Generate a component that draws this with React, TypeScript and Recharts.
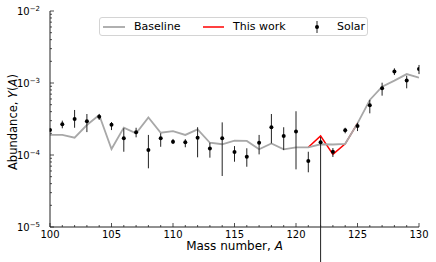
import * as React from 'react';
import {
    ComposedChart,
    ErrorBar,
    Legend,
    Line,
    ReferenceLine,
    Scatter,
    XAxis,
    YAxis,
} from 'recharts';

const FONT = '"DejaVu Sans", sans-serif';
const AXIS = '#222';
const GRAY = '#a8a8a8';
const RED = '#ff0000';

// mass numbers and the baseline abundances
const massNumbers = [
    100, 101, 102, 103, 104, 105, 106, 107, 108, 109, 110,
    111, 112, 113, 114, 115, 116, 117, 118, 119, 120,
    121, 122, 123, 124, 125, 126, 127, 128, 129, 130,
];
const baseline = [
    1.9e-4, 1.9e-4, 1.74e-4, 2.61e-4, 3.59e-4, 1.21e-4, 2.4e-4, 2.0e-4, 3.33e-4, 2.04e-4, 2.14e-4,
    1.9e-4, 2.27e-4, 1.48e-4, 1.41e-4, 1.58e-4, 1.57e-4, 1.2e-4, 1.45e-4, 1.2e-4, 1.28e-4,
    1.28e-4, 1.41e-4, 1.4e-4, 1.43e-4, 2.75e-4, 5.81e-4, 8.89e-4, 1.08e-3, 1.33e-3, 1.19e-3,
];

// this work only covers A = 121..125
const thisWorkMass = [121, 122, 123, 124, 125];
const thisWork = [1.28e-4, 1.84e-4, 1.02e-4, 1.43e-4, 2.75e-4];

// solar abundances with lower / upper bounds (0 = no lower bound, goes off the scale)
const solar = [
    2.22e-4, 2.67e-4, 3.16e-4, 2.94e-4, 3.4e-4, 2.64e-4, 1.71e-4, 2.07e-4, 1.17e-4, 1.71e-4, 1.53e-4,
    1.5e-4, 1.74e-4, 1.23e-4, 1.71e-4, 1.1e-4, 9.46e-5, 1.48e-4, 2.42e-4, 1.84e-4, 2.12e-4,
    8.25e-5, 1.5e-4, 1.11e-4, 2.2e-4, 2.53e-4, 4.9e-4, 8.43e-4, 1.45e-3, 1.08e-3, 1.56e-3,
];
const solarLow = [
    2.1e-4, 2.35e-4, 2.39e-4, 2.08e-4, 3.07e-4, 2.22e-4, 1.11e-4, 1.76e-4, 6.53e-5, 1.3e-4, 1.42e-4,
    1.28e-4, 9.29e-5, 9.18e-5, 5.11e-5, 8.07e-5, 6.87e-5, 1.02e-4, 1.45e-4, 1.17e-4, 6.32e-5,
    5.75e-5, 0, 9.38e-5, 2.0e-4, 2.15e-4, 3.79e-4, 6.67e-4, 1.29e-3, 8.43e-4, 1.33e-3,
];
const solarHigh = [
    2.35e-4, 3.0e-4, 4.22e-4, 3.71e-4, 3.71e-4, 2.87e-4, 2.35e-4, 2.39e-4, 1.9e-4, 2.0e-4, 1.67e-4,
    1.66e-4, 2.43e-4, 1.48e-4, 2.84e-4, 1.33e-4, 1.24e-4, 1.9e-4, 3.71e-4, 2.43e-4, 4.05e-4,
    1.11e-4, 1.78e-4, 1.25e-4, 2.39e-4, 2.8e-4, 5.81e-4, 1.01e-3, 1.6e-3, 1.26e-3, 1.78e-3,
];
const OFF_SCALE = 1e-7;

// ticks
const xMajorTicks = [100, 105, 110, 115, 120, 125, 130];
const yMajorTicks = [1e-5, 1e-4, 1e-3, 1e-2];
const yExponents = ['\u22125', '\u22124', '\u22123', '\u22122'];
const yMinorMantissas = [2, 3, 4, 5, 6, 7, 8, 9];
const yTicks = [
    ...yMajorTicks,
    ...yMajorTicks.slice(0, -1).flatMap((d) => yMinorMantissas.map((m) => m * d)),
];

const baselineData = massNumbers.map((A, i) => ({ A, y: baseline[i] }));
const workData = thisWorkMass.map((A, i) => ({ A, y: thisWork[i] }));
const solarData = massNumbers.map((A, i) => ({
    A,
    y: solar[i],
    err: [solarLow[i] > 0 ? solar[i] - solarLow[i] : 0, solarHigh[i] - solar[i]],
}));
const offScale = solarData.filter((d, i) => solarLow[i] <= 0);

function XTick({ x, y, payload, side }: any) {
    const major = xMajorTicks.includes(payload.value);
    const len = major ? 4 : 2;
    const dir = side === 'bottom' ? -1 : 1;
    return (
        <g>
            <line x1={x} x2={x} y1={y} y2={y + dir * len} stroke={AXIS} strokeWidth={0.8} />
            {side === 'bottom' && major && (
                <text x={x} y={y + 10.5} textAnchor="middle" fontSize={10} fontFamily={FONT} fill="#000">
                    {payload.value}
                </text>
            )}
        </g>
    );
}

function YTick({ x, y, payload, side }: any) {
    const idx = yMajorTicks.indexOf(payload.value);
    const major = idx >= 0;
    const len = major ? 4 : 2;
    const dir = side === 'left' ? 1 : -1;
    return (
        <g>
            <line x1={x} x2={x + dir * len} y1={y} y2={y} stroke={AXIS} strokeWidth={0.8} />
            {side === 'left' && major && (
                <text x={x - 10} y={y + 4} textAnchor="end" fontSize={10} fontFamily={FONT} fill="#000">
                    10
                    <tspan dy={-4.5} fontSize={7}>{yExponents[idx]}</tspan>
                </text>
            )}
        </g>
    );
}

function XTitle(props: any) {
    const vb = props.viewBox || props;
    return (
        <text x={vb.x + vb.width / 2} y={vb.y + 23} textAnchor="middle" fontSize={12} fontFamily={FONT} fill="#000">
            Mass number, <tspan fontStyle="italic">A</tspan>
        </text>
    );
}

function YTitle(props: any) {
    const vb = props.viewBox || props;
    const cx = vb.x + 16.5;
    const cy = vb.y + vb.height / 2 + 3;
    return (
        <text
            x={cx}
            y={cy}
            transform={`rotate(-90, ${cx}, ${cy})`}
            textAnchor="middle"
            fontSize={11.5}
            fontFamily={FONT}
            fill="#000"
        >
            Abundance, <tspan fontStyle="italic">Y</tspan>(<tspan fontStyle="italic">A</tspan>)
        </text>
    );
}

function LegendBox() {
    const item = { display: 'flex', alignItems: 'center', width: 103, flex: 'none' } as const;
    return (
        <div
            style={{
                boxSizing: 'border-box',
                width: 269,
                height: 19,
                border: '1px solid #d4d4d4',
                borderRadius: 3,
                background: 'rgba(255,255,255,0.8)',
                display: 'flex',
                alignItems: 'center',
                fontFamily: FONT,
                fontSize: 11,
                color: '#000',
                lineHeight: '12px',
            }}
        >
            <div style={item}>
                <svg width={22} height={10} style={{ marginLeft: 3 }}>
                    <line x1={0} x2={22} y1={5} y2={5} stroke={GRAY} strokeWidth={1.8} />
                </svg>
                <span style={{ marginLeft: 9 }}>Baseline</span>
            </div>
            <div style={item}>
                <svg width={21} height={10}>
                    <line x1={0} x2={21} y1={5} y2={5} stroke={RED} strokeWidth={1.5} />
                </svg>
                <span style={{ marginLeft: 9 }}>This work</span>
            </div>
            <div style={{ display: 'flex', alignItems: 'center' }}>
                <svg width={22} height={14}>
                    <line x1={11} x2={11} y1={1} y2={13} stroke={AXIS} strokeWidth={1} />
                    <circle cx={11} cy={7} r={2} fill="#000" />
                </svg>
                <span style={{ marginLeft: 9 }}>Solar</span>
            </div>
        </div>
    );
}

const dot = (p: any) => <circle cx={p.cx} cy={p.cy} r={2} fill="#000" />;

export default function App() {
    return (
        <div style={{ position: 'absolute', left: 0, top: 0, background: '#fff' }}>
            <ComposedChart
                width={436}
                height={262}
                data={baselineData}
                margin={{ top: 11, right: 17, bottom: 0, left: 0 }}
            >
                <XAxis
                    dataKey="A"
                    type="number"
                    domain={[100, 130]}
                    allowDataOverflow
                    ticks={massNumbers}
                    interval={0}
                    height={35}
                    tickSize={0}
                    tickMargin={0}
                    tickLine={false}
                    axisLine={{ stroke: AXIS }}
                    tick={(p: any) => <XTick {...p} side="bottom" />}
                    label={XTitle}
                />
                <XAxis
                    xAxisId="top"
                    orientation="top"
                    type="number"
                    domain={[100, 130]}
                    allowDataOverflow
                    ticks={massNumbers}
                    interval={0}
                    height={0}
                    tickSize={0}
                    tickMargin={0}
                    tickLine={false}
                    axisLine={{ stroke: AXIS }}
                    tick={(p: any) => <XTick {...p} side="top" />}
                />
                <YAxis
                    type="number"
                    scale="log"
                    domain={[1e-5, 1e-2]}
                    allowDataOverflow
                    ticks={yTicks}
                    interval={0}
                    width={50}
                    tickSize={0}
                    tickMargin={0}
                    tickLine={false}
                    axisLine={{ stroke: AXIS }}
                    tick={(p: any) => <YTick {...p} side="left" />}
                    label={YTitle}
                />
                <YAxis
                    yAxisId="right"
                    orientation="right"
                    type="number"
                    scale="log"
                    domain={[1e-5, 1e-2]}
                    allowDataOverflow
                    ticks={yTicks}
                    interval={0}
                    width={0}
                    tickSize={0}
                    tickMargin={0}
                    tickLine={false}
                    axisLine={{ stroke: AXIS }}
                    tick={(p: any) => <YTick {...p} side="right" />}
                />
                <Line
                    data={workData}
                    dataKey="y"
                    type="linear"
                    stroke={RED}
                    strokeWidth={1.5}
                    dot={false}
                    activeDot={false}
                    isAnimationActive={false}
                />
                <Line
                    dataKey="y"
                    type="linear"
                    stroke={GRAY}
                    strokeWidth={1.8}
                    dot={false}
                    activeDot={false}
                    isAnimationActive={false}
                />
                <Scatter data={solarData} dataKey="y" shape={dot} isAnimationActive={false}>
                    <ErrorBar dataKey="err" direction="y" width={0} stroke={AXIS} strokeWidth={1} />
                </Scatter>
                {offScale.map((d) => (
                    <ReferenceLine
                        key={d.A}
                        segment={[{ x: d.A, y: d.y }, { x: d.A, y: OFF_SCALE }]}
                        ifOverflow="visible"
                        stroke={AXIS}
                        strokeWidth={1}
                    />
                ))}
                <Legend
                    content={() => <LegendBox />}
                    layout="horizontal"
                    verticalAlign="middle"
                    align="center"
                    wrapperStyle={{ left: 99, top: 17, width: 269, height: 19 }}
                />
            </ComposedChart>
        </div>
    );
}
